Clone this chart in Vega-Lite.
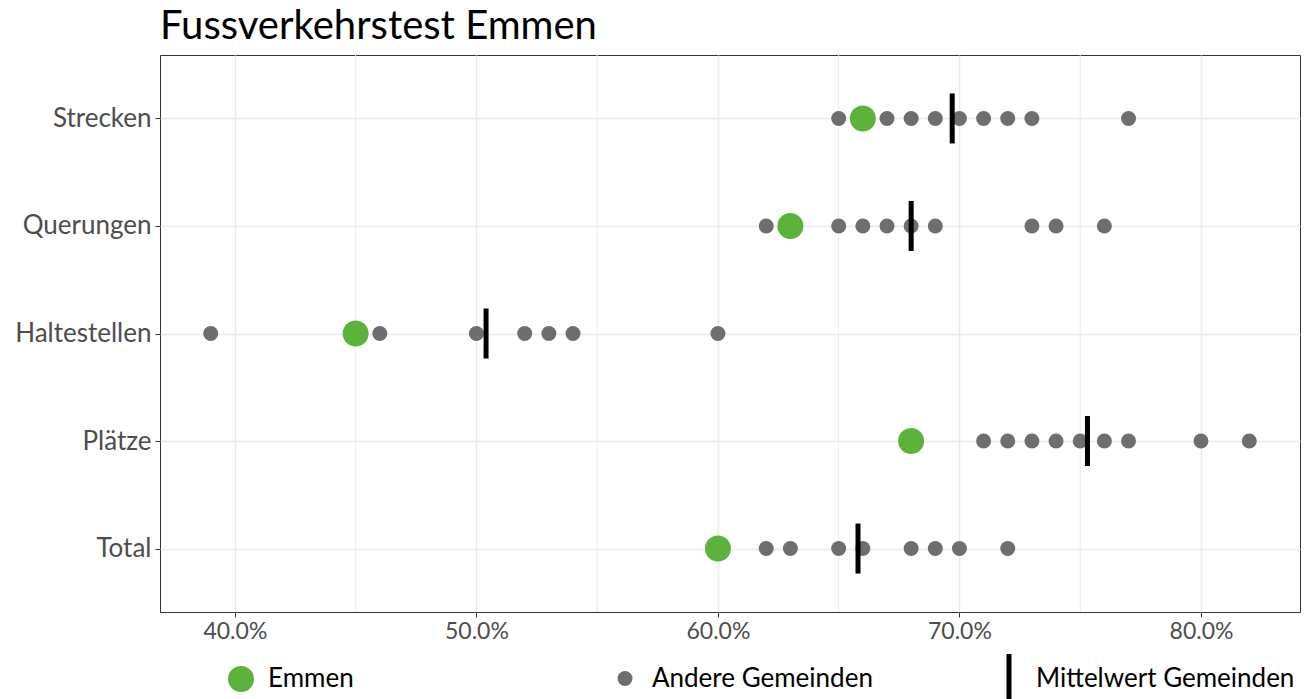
{
  "$schema": "https://vega.github.io/schema/vega-lite/v6.json",
  "width": 1140,
  "height": 557,
  "autosize": {"type": "none"},
  "padding": {"left": 160, "top": 55, "right": 6, "bottom": 87},
  "background": "white",
  "title": {
    "text": "Fussverkehrstest Emmen",
    "anchor": "start",
    "frame": "group",
    "fontSize": 40,
    "font": "Lato",
    "fontWeight": "normal",
    "color": "black",
    "offset": 8
  },
  "layer": [
    {
      "data": {"values": [{"x": 0.45}, {"x": 0.55}, {"x": 0.65}, {"x": 0.75}]},
      "mark": {"type": "rule", "color": "#ebebeb", "strokeWidth": 1},
      "encoding": {
        "x": {"field": "x", "type": "quantitative", "scale": {"domain": [0.369, 0.841], "nice": false, "zero": false}}
      }
    },
    {
      "data": {
        "values": [
          {"kategorie": "Strecken", "typ": "Andere Gemeinden", "wert": 0.65},
          {"kategorie": "Strecken", "typ": "Andere Gemeinden", "wert": 0.67},
          {"kategorie": "Strecken", "typ": "Andere Gemeinden", "wert": 0.68},
          {"kategorie": "Strecken", "typ": "Andere Gemeinden", "wert": 0.69},
          {"kategorie": "Strecken", "typ": "Andere Gemeinden", "wert": 0.70},
          {"kategorie": "Strecken", "typ": "Andere Gemeinden", "wert": 0.71},
          {"kategorie": "Strecken", "typ": "Andere Gemeinden", "wert": 0.72},
          {"kategorie": "Strecken", "typ": "Andere Gemeinden", "wert": 0.73},
          {"kategorie": "Strecken", "typ": "Andere Gemeinden", "wert": 0.77},
          {"kategorie": "Querungen", "typ": "Andere Gemeinden", "wert": 0.62},
          {"kategorie": "Querungen", "typ": "Andere Gemeinden", "wert": 0.65},
          {"kategorie": "Querungen", "typ": "Andere Gemeinden", "wert": 0.66},
          {"kategorie": "Querungen", "typ": "Andere Gemeinden", "wert": 0.67},
          {"kategorie": "Querungen", "typ": "Andere Gemeinden", "wert": 0.68},
          {"kategorie": "Querungen", "typ": "Andere Gemeinden", "wert": 0.69},
          {"kategorie": "Querungen", "typ": "Andere Gemeinden", "wert": 0.73},
          {"kategorie": "Querungen", "typ": "Andere Gemeinden", "wert": 0.74},
          {"kategorie": "Querungen", "typ": "Andere Gemeinden", "wert": 0.76},
          {"kategorie": "Haltestellen", "typ": "Andere Gemeinden", "wert": 0.39},
          {"kategorie": "Haltestellen", "typ": "Andere Gemeinden", "wert": 0.46},
          {"kategorie": "Haltestellen", "typ": "Andere Gemeinden", "wert": 0.50},
          {"kategorie": "Haltestellen", "typ": "Andere Gemeinden", "wert": 0.52},
          {"kategorie": "Haltestellen", "typ": "Andere Gemeinden", "wert": 0.53},
          {"kategorie": "Haltestellen", "typ": "Andere Gemeinden", "wert": 0.54},
          {"kategorie": "Haltestellen", "typ": "Andere Gemeinden", "wert": 0.60},
          {"kategorie": "Plätze", "typ": "Andere Gemeinden", "wert": 0.71},
          {"kategorie": "Plätze", "typ": "Andere Gemeinden", "wert": 0.72},
          {"kategorie": "Plätze", "typ": "Andere Gemeinden", "wert": 0.73},
          {"kategorie": "Plätze", "typ": "Andere Gemeinden", "wert": 0.74},
          {"kategorie": "Plätze", "typ": "Andere Gemeinden", "wert": 0.75},
          {"kategorie": "Plätze", "typ": "Andere Gemeinden", "wert": 0.76},
          {"kategorie": "Plätze", "typ": "Andere Gemeinden", "wert": 0.77},
          {"kategorie": "Plätze", "typ": "Andere Gemeinden", "wert": 0.80},
          {"kategorie": "Plätze", "typ": "Andere Gemeinden", "wert": 0.82},
          {"kategorie": "Total", "typ": "Andere Gemeinden", "wert": 0.62},
          {"kategorie": "Total", "typ": "Andere Gemeinden", "wert": 0.63},
          {"kategorie": "Total", "typ": "Andere Gemeinden", "wert": 0.65},
          {"kategorie": "Total", "typ": "Andere Gemeinden", "wert": 0.66},
          {"kategorie": "Total", "typ": "Andere Gemeinden", "wert": 0.68},
          {"kategorie": "Total", "typ": "Andere Gemeinden", "wert": 0.69},
          {"kategorie": "Total", "typ": "Andere Gemeinden", "wert": 0.70},
          {"kategorie": "Total", "typ": "Andere Gemeinden", "wert": 0.72},
          {"kategorie": "Strecken", "typ": "Mittelwert Gemeinden", "wert": 0.697},
          {"kategorie": "Querungen", "typ": "Mittelwert Gemeinden", "wert": 0.680},
          {"kategorie": "Haltestellen", "typ": "Mittelwert Gemeinden", "wert": 0.504},
          {"kategorie": "Plätze", "typ": "Mittelwert Gemeinden", "wert": 0.753},
          {"kategorie": "Total", "typ": "Mittelwert Gemeinden", "wert": 0.658},
          {"kategorie": "Strecken", "typ": "Emmen", "wert": 0.66},
          {"kategorie": "Querungen", "typ": "Emmen", "wert": 0.63},
          {"kategorie": "Haltestellen", "typ": "Emmen", "wert": 0.45},
          {"kategorie": "Plätze", "typ": "Emmen", "wert": 0.68},
          {"kategorie": "Total", "typ": "Emmen", "wert": 0.60}
        ]
      },
      "mark": {"type": "point", "filled": true, "opacity": 1, "strokeWidth": 0},
      "encoding": {
        "x": {
          "field": "wert",
          "type": "quantitative",
          "scale": {"domain": [0.369, 0.841], "nice": false, "zero": false},
          "axis": {
            "title": null,
            "format": ".1%",
            "values": [0.4, 0.5, 0.6, 0.7, 0.8],
            "grid": true,
            "gridColor": "#ebebeb",
            "gridWidth": 1.5,
            "domain": false,
            "ticks": true,
            "tickColor": "#333333",
            "tickSize": 5,
            "labelFontSize": 23,
            "labelFont": "Lato",
            "labelColor": "#4d4d4d",
            "labelPadding": 3
          }
        },
        "y": {
          "field": "kategorie",
          "type": "nominal",
          "scale": {"type": "point", "padding": 0.59, "domain": ["Strecken", "Querungen", "Haltestellen", "Plätze", "Total"]},
          "axis": {
            "title": null,
            "grid": true,
            "gridColor": "#ebebeb",
            "gridWidth": 1.5,
            "domain": false,
            "ticks": true,
            "tickColor": "#333333",
            "tickSize": 5,
            "labelFontSize": 26,
            "labelFont": "Lato",
            "labelColor": "#4d4d4d",
            "labelPadding": 4
          }
        },
        "color": {
          "field": "typ",
          "type": "nominal",
          "scale": {"domain": ["Emmen", "Andere Gemeinden", "Mittelwert Gemeinden"], "range": ["#5cb33c", "#6e6e6e", "#000000"]},
          "legend": {
            "title": null,
            "orient": "none",
            "legendX": 55,
            "legendY": 598,
            "direction": "horizontal",
            "columns": 3,
            "gridAlign": "all",
            "columnPadding": 72,
            "labelFontSize": 26,
            "labelFont": "Lato",
            "labelColor": "black",
            "labelOffset": 1,
            "labelLimit": 400
          }
        },
        "shape": {
          "field": "typ",
          "type": "nominal",
          "scale": {"domain": ["Emmen", "Andere Gemeinden", "Mittelwert Gemeinden"], "range": ["circle", "circle", "M-0.1,-1H0.1V1H-0.1Z"]}
        },
        "size": {
          "field": "typ",
          "type": "nominal",
          "scale": {"type": "ordinal", "domain": ["Emmen", "Andere Gemeinden", "Mittelwert Gemeinden"], "range": [676, 225, 2500]}
        }
      }
    }
  ],
  "config": {
    "view": {"stroke": "#333333", "strokeWidth": 1},
    "legend": {"title": null}
  }
}
